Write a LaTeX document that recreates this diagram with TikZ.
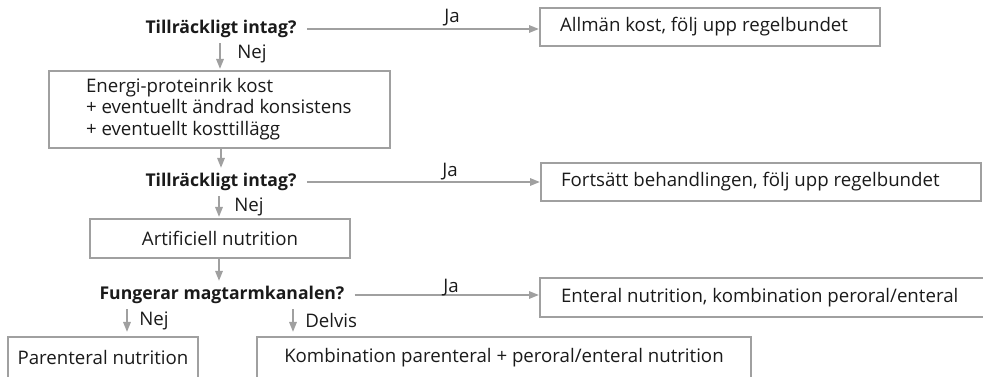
\documentclass[tikz,border=0pt]{standalone}
\usepackage{fontspec}
\setmainfont{Open Sans}
\usetikzlibrary{arrows.meta}
\definecolor{lg}{HTML}{A0A0A0}
\definecolor{tx}{HTML}{1A1A1A}
\newlength\upx \setlength\upx{0.75pt}
\newcommand{\fsz}{\fontsize{14pt}{16.2pt}\selectfont}
\newcommand{\fszb}{\fontsize{13.2pt}{16.2pt}\selectfont\bfseries}
\begin{document}
\begin{tikzpicture}[x=0.75pt,y=-0.75pt,
  every node/.style={font=\fsz, text=tx},
  box/.style={draw=lg, line width=1.5pt, rectangle, inner ysep=0pt},
  quest/.style={font=\fszb, inner xsep=7.5pt, inner ysep=3.75pt},
  lbl/.style={inner sep=0pt},
  conn/.style={draw=lg, line width=1.5pt, -{Triangle[length=7.5pt,width=5.5pt]}}]
\useasboundingbox (0,0) rectangle (983,377);
% questions
\node[quest] (q1) at (221,29) {Tillräckligt intag?};
\node[quest] (q2) at (221,182) {Tillräckligt intag?};
\node[quest] (q3) at (222,295) {Fungerar magtarmkanalen?};
% boxes
\node[box, minimum height=38\upx, inner xsep=20\upx] (b1) at (710,27) {\makebox[300\upx][l]{Allmän kost, följ upp regelbundet}};
\node[box, minimum height=77\upx, inner xsep=37\upx] (b2) at (219.5,109.5) {\makebox[267\upx][l]{\begin{tabular}{@{}l@{}}Energi-proteinrik kost\\+ eventuellt ändrad konsistens\\+ eventuellt kosttillägg\end{tabular}}};
\node[box, minimum height=38\upx, inner xsep=20\upx] (b3) at (761,182) {\makebox[400\upx][l]{Fortsätt behandlingen, följ upp regelbundet}};
\node[box, minimum height=39\upx, inner xsep=10\upx] (b4) at (220,238.5) {\makebox[240\upx][c]{Artificiell nutrition}};
\node[box, minimum height=39\upx, inner xsep=21\upx] (b5) at (770,298) {\makebox[418\upx][l]{Enteral nutrition, kombination peroral/enteral}};
\node[box, minimum height=42\upx, inner xsep=5\upx] (b6) at (103,358) {\makebox[180\upx][c]{Parenteral nutrition}};
\node[box, minimum height=42\upx, inner xsep=5\upx] (b7) at (504,358) {\makebox[484\upx][c]{Kombination parenteral + peroral/enteral nutrition}};
% connectors
\draw[conn] (q1.east) -- (b1.west |- q1.east);
\draw[conn] (q2.east) -- (b3.west |- q2.east);
\draw[conn] (q3.east) -- (b5.west |- q3.east);
\draw[conn] (q1.south -| 220,0) -- ([yshift=0.75pt]b2.north -| 220,0);
\draw[conn] (b2.south -| 221,0) -- (q2.north -| 221,0);
\draw[conn] (q2.south -| 219,0) -- ([yshift=0.75pt]b4.north -| 219,0);
\draw[conn] (b4.south -| 219,0) -- (q3.north -| 219,0);
\draw[conn] (q3.south -| 127,0) -- ([yshift=3pt]b6.north -| 127,0);
\draw[conn] (q3.south -| 293,0) -- ([yshift=3pt]b7.north -| 293,0);
% labels
\node[lbl] (ja1) at (452,18) {Ja};
\node[lbl] (ja2) at (450,172) {Ja};
\node[lbl] (ja3) at (451,288) {Ja};
\node[lbl, anchor=west] (nej1) at (237,54) {Nej};
\node[lbl, anchor=west] (nej2) at (234,207) {Nej};
\node[lbl, anchor=west] (nej3) at (139,321) {Nej};
\node[lbl, anchor=west] (delvis) at (305,321) {Delvis};
\end{tikzpicture}
\end{document}
